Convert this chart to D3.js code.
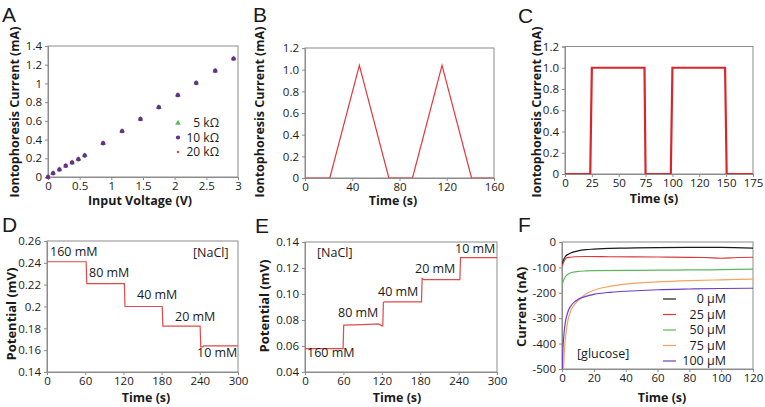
<!DOCTYPE html>
<html><head><meta charset="utf-8">
<script src="https://cdn.jsdelivr.net/npm/d3@7/dist/d3.min.js"></script>
<style>
body{margin:0;background:#fff}
text{font-family:"Open Sans",sans-serif;fill:#1a1a1a}
</style></head><body>
<svg id="c" width="765" height="407"></svg>
<script>
// ---------- DATA ----------
// Panel A
const aVoltage   = [0, 0.08, 0.18, 0.28, 0.38, 0.48, 0.58, 0.87, 1.17, 1.46, 1.75, 2.05, 2.34, 2.64, 2.93];
const aCurrent5k = [0, 0.04, 0.08, 0.12, 0.155, 0.19, 0.23, 0.36, 0.49, 0.62, 0.745, 0.875, 1.005, 1.135, 1.265];
const aCurrent10k= [0, 0.04, 0.08, 0.12, 0.155, 0.19, 0.23, 0.36, 0.49, 0.62, 0.745, 0.875, 1.005, 1.135, 1.265];
const aCurrent20k= [0, 0.04, 0.08, 0.12, 0.155, 0.19, 0.23, 0.36, 0.49, 0.62, 0.745, 0.875, 1.005, 1.135, 1.265];
const aLegend = ["5 kΩ", "10 kΩ", "20 kΩ"];
const aXTicks = [0, 0.5, 1, 1.5, 2, 2.5, 3];
const aXLabels = ["0", "0.5", "1", "1.5", "2", "2.5", "3"];
const aYTicks = [0, 0.2, 0.4, 0.6, 0.8, 1, 1.2, 1.4];
const aYLabels = ["0", "0.2", "0.4", "0.6", "0.8", "1", "1.2", "1.4"];
// Panel B
const bTime    = [0, 21, 46, 71, 91, 116, 141, 160];
const bCurrent = [0, 0, 1.04, 0, 0, 1.04, 0, 0];
const bXTicks = [0, 40, 80, 120, 160];
const bXLabels = ["0", "40", "80", "120", "160"];
const bYTicks = [0, 0.2, 0.4, 0.6, 0.8, 1.0, 1.2];
const bYLabels = ["0", "0.2", "0.4", "0.6", "0.8", "1.0", "1.2"];
// Panel C
const cTime    = [0, 23.5, 25, 74, 75, 98.5, 100, 149, 150.5, 175];
const cCurrent = [0, 0, 1, 1, 0, 0, 1, 1, 0, 0];
const cXTicks = [0, 25, 50, 75, 100, 125, 150, 175];
const cXLabels = ["0", "25", "50", "75", "100", "120", "150", "175"];
const cYTicks = [0, 0.2, 0.4, 0.6, 0.8, 1.0, 1.2];
const cYLabels = ["0", "0.2", "0.4", "0.6", "0.8", "1.0", "1.2"];
// Panel D
const dTime      = [0, 61.5, 62.5, 121.5, 122.5, 181, 182, 240.5, 241.5, 245, 246, 300];
const dPotential = [0.241, 0.241, 0.221, 0.221, 0.200, 0.200, 0.182, 0.182, 0.163, 0.163, 0.164, 0.164];
const dLabels = ["160 mM", "80 mM", "40 mM", "20 mM", "10 mM"];
const dXTicks = [0, 60, 120, 180, 240, 300];
const dYTicks = [0.14, 0.16, 0.18, 0.2, 0.22, 0.24, 0.26];
const dYLabels = ["0.14", "0.16", "0.18", "0.2", "0.22", "0.24", "0.26"];
// Panel E
const eTime      = [0, 59.5, 60.5, 90, 115, 120, 121.5, 122.5, 125, 182, 183, 186, 242, 243, 300];
const ePotential = [0.058, 0.058, 0.076, 0.0765, 0.077, 0.0755, 0.0755, 0.0935, 0.094, 0.094, 0.112, 0.111, 0.111, 0.128, 0.128];
const eLabels = ["160 mM", "80 mM", "40 mM", "20 mM", "10 mM"];
const eXTicks = [0, 60, 120, 180, 240, 300];
const eYTicks = [0.04, 0.06, 0.08, 0.10, 0.12, 0.14];
const eYLabels = ["0.04", "0.06", "0.08", "0.10", "0.12", "0.14"];
// Panel F
const fSeriesNames = ["0 µM", "25 µM", "50 µM", "75 µM", "100 µM"];
const fTime0   = [0, 1, 2, 4, 6, 10, 15, 20, 30, 40, 60, 80, 100, 120];
const fCur0    = [-90, -70, -58, -48, -42, -35, -30, -28, -25, -24, -22, -21, -21, -24];
const fTime25  = [0, 1, 2, 3, 5, 8, 15, 30, 60, 90, 100, 110, 120];
const fCur25   = [-95, -80, -68, -62, -60, -58, -57, -58, -59, -61, -64, -61, -60];
const fTime50  = [0, 1, 2, 4, 6, 10, 15, 20, 40, 60, 80, 100, 120];
const fCur50   = [-170, -150, -138, -126, -120, -116, -114, -113, -112, -111, -110, -109, -107];
const fTime75  = [1, 1.5, 2, 3, 4, 6, 8, 10, 15, 20, 30, 40, 60, 80, 100, 120];
const fCur75   = [-500, -430, -390, -335, -300, -265, -245, -232, -205, -190, -175, -166, -157, -152, -149, -146];
const fTime100 = [0, 0.5, 1, 2, 3, 4, 6, 8, 10, 15, 20, 30, 40, 60, 80, 100, 120];
const fCur100  = [-540, -430, -380, -320, -290, -270, -248, -235, -226, -214, -206, -198, -194, -188, -185, -183, -182];
const fXTicks = [0, 20, 40, 60, 80, 100, 120];
const fYTicks = [-500, -400, -300, -200, -100, 0];

// ---------- DRAWING ----------
const svg = d3.select("#c");
const FRAME = "#8c8c8c";
const TICKFS = "11.5px";
let clipId = 0;

function panel(o) {
  const x = d3.scaleLinear().domain(o.xd).range(o.xr);
  const y = d3.scaleLinear().domain(o.yd).range(o.yr);
  const g = svg.append("g");
  const id = "clip" + (clipId++);
  g.append("clipPath").attr("id", id).append("rect")
    .attr("x", o.xr[0]).attr("y", o.yr[1]).attr("width", o.xr[1] - o.xr[0]).attr("height", o.yr[0] - o.yr[1]);
  g.append("rect").attr("x", o.xr[0]).attr("y", o.yr[1])
    .attr("width", o.xr[1] - o.xr[0]).attr("height", o.yr[0] - o.yr[1])
    .attr("fill", "none").attr("stroke", FRAME).attr("stroke-width", 1);
  const xa = g.append("g").attr("transform", `translate(0,${o.yr[0]})`)
    .call(d3.axisBottom(x).tickValues(o.xt).tickFormat((d, i) => o.xl[i]).tickSize(3).tickPadding(1.5));
  const ya = g.append("g").attr("transform", `translate(${o.xr[0]},0)`)
    .call(d3.axisLeft(y).tickValues(o.yt).tickFormat((d, i) => o.yl[i]).tickSize(3).tickPadding(3));
  [xa, ya].forEach(a => {
    a.select(".domain").attr("stroke", FRAME);
    a.selectAll(".tick line").attr("stroke", FRAME);
    a.selectAll(".tick text").style("font-family", '"Open Sans",sans-serif').style("font-size", TICKFS).attr("fill", "#1a1a1a");
  });
  // titles
  g.append("text").attr("transform", `translate(${o.ytPos[0]},${o.ytPos[1]}) rotate(-90)`)
    .attr("text-anchor", "middle").attr("dy", "0.35em")
    .style("font-weight", "bold").style("font-size", o.ytSize || "12.5px").text(o.ytitle);
  g.append("text").attr("x", o.xtPos[0]).attr("y", o.xtPos[1]).attr("text-anchor", "middle")
    .style("font-weight", "bold").style("font-size", "12.5px").text(o.xtitle);
  g.append("text").attr("x", o.letter[1]).attr("y", o.letter[2])
    .style("font-family", '"Liberation Sans",Arial,sans-serif').style("font-size", "21px").text(o.letter[0]);
  const plot = g.append("g").attr("clip-path", `url(#${id})`);
  return {x, y, g, plot};
}

const zip = (a, b) => a.map((v, i) => [v, b[i]]);

// Panel A
{
  const p = panel({xd: [0, 3], xr: [48, 238], yd: [0, 1.4], yr: [177, 46],
    xt: aXTicks, xl: aXLabels, yt: aYTicks, yl: aYLabels,
    ytitle: "Iontophoresis Current (mA)", ytPos: [15, 112], xtitle: "Input Voltage (V)", xtPos: [140, 205],
    letter: ["A", 2, 22]});
  const sym = d3.symbol().type(d3.symbolTriangle).size(14);
  p.g.selectAll(".a5").data(zip(aVoltage, aCurrent5k)).join("path")
    .attr("d", sym).attr("transform", d => `translate(${p.x(d[0])},${p.y(d[1])})`).attr("fill", "#5cb85c");
  p.g.selectAll(".a20").data(zip(aVoltage, aCurrent20k)).join("circle")
    .attr("cx", d => p.x(d[0])).attr("cy", d => p.y(d[1])).attr("r", 1.2).attr("fill", "#e04040");
  p.g.selectAll(".a10").data(zip(aVoltage, aCurrent10k)).join("circle")
    .attr("cx", d => p.x(d[0])).attr("cy", d => p.y(d[1])).attr("r", 2.2).attr("fill", "#6b2d8c");
  // legend
  const ly = [123, 137.5, 152];
  const lg = p.g.append("g");
  lg.append("path").attr("d", sym).attr("transform", `translate(178,${ly[0]})`).attr("fill", "#5cb85c");
  lg.append("circle").attr("cx", 178).attr("cy", ly[1]).attr("r", 2.1).attr("fill", "#6b2d8c");
  lg.append("circle").attr("cx", 178).attr("cy", ly[2]).attr("r", 1.2).attr("fill", "#e04040");
  aLegend.forEach((t, i) => lg.append("text").attr("x", 219).attr("y", ly[i]).attr("dy", "0.35em")
    .attr("text-anchor", "end").style("font-size", "12px").text(t));
}

const line = (p) => d3.line().x(d => p.x(d[0])).y(d => p.y(d[1]));

// Panel B
{
  const p = panel({xd: [0, 160], xr: [305, 494], yd: [0, 1.2], yr: [178, 48],
    xt: bXTicks, xl: bXLabels, yt: bYTicks, yl: bYLabels,
    ytitle: "Iontophoresis Current (mA)", ytPos: [260, 112], xtitle: "Time (s)", xtPos: [393, 205],
    letter: ["B", 253, 22]});
  p.plot.append("path").datum(zip(bTime, bCurrent)).attr("d", line(p))
    .attr("fill", "none").attr("stroke", "#e0393e").attr("stroke-width", 1.2);
}

// Panel C
{
  const p = panel({xd: [0, 175], xr: [565, 753], yd: [0, 1.2], yr: [174, 46.5],
    xt: cXTicks, xl: cXLabels, yt: cYTicks, yl: cYLabels,
    ytitle: "Iontophoresis Current (mA)", ytPos: [537, 112], xtitle: "Time (s)", xtPos: [654, 203],
    letter: ["C", 518, 23]});
  p.plot.append("path").datum(zip(cTime, cCurrent)).attr("d", line(p))
    .attr("fill", "none").attr("stroke", "#d9262b").attr("stroke-width", 2.2);
}

// Panel D
{
  const p = panel({xd: [0, 300], xr: [47, 238], yd: [0.14, 0.26], yr: [372, 241],
    xt: dXTicks, xl: dXTicks.map(String), yt: dYTicks, yl: dYLabels,
    ytitle: "Potential (mV)", ytPos: [11, 314], xtitle: "Time (s)", xtPos: [146, 402],
    letter: ["D", 2, 232], ytSize: "13px"});
  p.plot.append("path").datum(zip(dTime, dPotential)).attr("d", line(p))
    .attr("fill", "none").attr("stroke", "#e04a4a").attr("stroke-width", 1.2);
  const pos = [[50, 252], [89, 273], [137, 295], [175, 317], [197, 353]];
  dLabels.forEach((t, i) => p.g.append("text").attr("x", pos[i][0]).attr("y", pos[i][1]).attr("dy", "0.35em")
    .style("font-size", "12.5px").text(t));
  p.g.append("text").attr("x", 193).attr("y", 253).attr("dy", "0.35em").style("font-size", "12.5px").text("[NaCl]");
}

// Panel E
{
  const p = panel({xd: [0, 300], xr: [305, 497], yd: [0.04, 0.14], yr: [372, 242],
    xt: eXTicks, xl: eXTicks.map(String), yt: eYTicks, yl: eYLabels,
    ytitle: "Potential (mV)", ytPos: [264, 306], xtitle: "Time (s)", xtPos: [397, 402],
    letter: ["E", 255, 233], ytSize: "13px"});
  p.plot.append("path").datum(zip(eTime, ePotential)).attr("d", line(p))
    .attr("fill", "none").attr("stroke", "#e04a4a").attr("stroke-width", 1.2);
  const pos = [[307, 353], [338, 313], [378, 292], [415, 269], [455, 249]];
  eLabels.forEach((t, i) => p.g.append("text").attr("x", pos[i][0]).attr("y", pos[i][1]).attr("dy", "0.35em")
    .style("font-size", "12.5px").text(t));
  p.g.append("text").attr("x", 317).attr("y", 253).attr("dy", "0.35em").style("font-size", "12.5px").text("[NaCl]");
}

// Panel F
{
  const p = panel({xd: [0, 120], xr: [562, 753], yd: [-500, 0], yr: [369, 242],
    xt: fXTicks, xl: fXTicks.map(String), yt: fYTicks, yl: fYTicks.map(String),
    ytitle: "Current (nA)", ytPos: [521, 307], xtitle: "Time (s)", xtPos: [662, 402],
    letter: ["F", 518, 232], ytSize: "13px"});
  const colors = ["#1a1a1a", "#d93a3a", "#5cb85c", "#f4a460", "#6a3fc4"];
  const series = [zip(fTime0, fCur0), zip(fTime25, fCur25), zip(fTime50, fCur50), zip(fTime75, fCur75), zip(fTime100, fCur100)];
  series.forEach((s, i) => p.plot.append("path").datum(s).attr("d", line(p).curve(d3.curveMonotoneX))
    .attr("fill", "none").attr("stroke", colors[i]).attr("stroke-width", 1.2));
  const ly = [299, 314.5, 330, 345.5, 361];
  fSeriesNames.forEach((t, i) => {
    p.g.append("line").attr("x1", 663).attr("x2", 676).attr("y1", ly[i]).attr("y2", ly[i])
      .attr("stroke", colors[i]).attr("stroke-width", 1.2);
    p.g.append("text").attr("x", 726).attr("y", ly[i]).attr("dy", "0.35em").attr("text-anchor", "end")
      .style("font-size", "12.5px").text(t);
  });
  p.g.append("text").attr("x", 577).attr("y", 354).attr("dy", "0.35em").style("font-size", "12.5px").text("[glucose]");
}
</script>
</body></html>
